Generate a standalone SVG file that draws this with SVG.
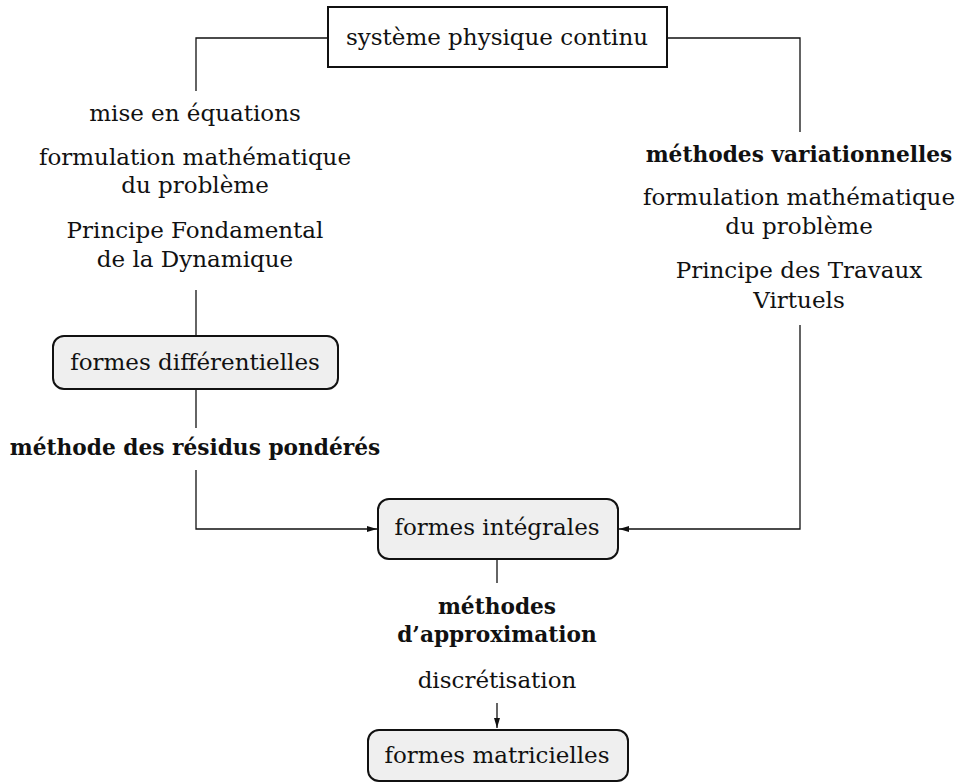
<svg xmlns="http://www.w3.org/2000/svg" width="961" height="783" viewBox="0 0 961 783">
<style>
text { font-family: "DejaVu Serif", "Liberation Serif", serif; font-size: 23px; fill: #111; text-anchor: middle; }
.b { font-weight: bold; font-size: 21.7px; }
.box { fill: #ffffff; stroke: #111; stroke-width: 2; }
.rbox { fill: #efefef; stroke: #111; stroke-width: 2; }
.c { fill: none; stroke: #111; stroke-width: 1.3; }
</style>
<defs>
<marker id="arr" viewBox="0 0 10 6" refX="10" refY="3" markerWidth="10" markerHeight="6" markerUnits="userSpaceOnUse" orient="auto">
<path d="M0,0 L10,3 L0,6 Z" fill="#111"/>
</marker>
</defs>
<g id="connectors">
<polyline class="c" points="328,38 196,38 196,91"/>
<line class="c" x1="196" y1="290" x2="196" y2="336"/>
<line class="c" x1="196" y1="389" x2="196" y2="428"/>
<polyline class="c" points="196,470 196,529 377,529" marker-end="url(#arr)"/>
<polyline class="c" points="667,38 800,38 800,132"/>
<polyline class="c" points="800,325 800,529 619,529" marker-end="url(#arr)"/>
<line class="c" x1="497" y1="559" x2="497" y2="583"/>
<line class="c" x1="497" y1="703" x2="497" y2="728" marker-end="url(#arr)"/>
</g>
<g id="labels-left">
<text x="195" y="121">mise en équations</text>
<text x="195" y="165">formulation mathématique</text>
<text x="195" y="193">du problème</text>
<text x="195" y="238">Principe Fondamental</text>
<text x="195" y="267">de la Dynamique</text>
<text class="b" x="195" y="455">méthode des résidus pondérés</text>
</g>
<g id="labels-right">
<text class="b" x="799" y="162">méthodes variationnelles</text>
<text x="799" y="205">formulation mathématique</text>
<text x="799" y="234">du problème</text>
<text x="799" y="278">Principe des Travaux</text>
<text x="799" y="308">Virtuels</text>
</g>
<g id="labels-bottom">
<text class="b" x="497" y="614">méthodes</text>
<text class="b" x="497" y="642">d’approximation</text>
<text x="497" y="688">discrétisation</text>
</g>
<g id="systeme">
<rect class="box" x="328" y="7" width="339" height="60"/>
<text x="497" y="45">système physique continu</text>
</g>
<g id="differentielles">
<rect class="rbox" x="53" y="336" width="285" height="53" rx="11" ry="11"/>
<text x="195" y="370">formes différentielles</text>
</g>
<g id="integrales">
<rect class="rbox" x="378" y="499" width="240" height="60" rx="11" ry="11"/>
<text x="497" y="535">formes intégrales</text>
</g>
<g id="matricielles">
<rect class="rbox" x="368" y="730" width="260" height="51" rx="11" ry="11"/>
<text x="497" y="763">formes matricielles</text>
</g>
</svg>
